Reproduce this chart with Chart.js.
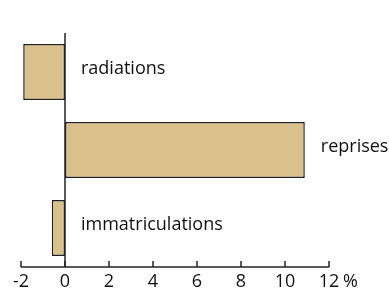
<!DOCTYPE html>
<html>
<head>
<meta charset="utf-8">
<script src="https://cdn.jsdelivr.net/npm/chart.js@4"></script>
<style>
html,body{margin:0;padding:0;background:#fff;}
#wrap{width:389px;height:295px;}
</style>
</head>
<body>
<div id="wrap"><canvas id="c" width="389" height="295"></canvas></div>
<script>
const categories = ["radiations", "reprises", "immatriculations"];
const values = [-1.9, 10.9, -0.6];
const tickValues = [-2, 0, 2, 4, 6, 8, 10, 12];
const unitLabel = "%";

const FONT = "'Open Sans', sans-serif";
const FS = 18;

const overlay = {
  id: 'overlay',
  afterDatasetsDraw(chart) {
    const ctx = chart.ctx;
    const x = chart.scales.x, y = chart.scales.y;
    const area = chart.chartArea;
    ctx.save();
    ctx.strokeStyle = '#222';
    ctx.lineWidth = 1.5;
    const x0 = x.getPixelForValue(0);
    ctx.beginPath();
    ctx.moveTo(x0, area.top);
    ctx.lineTo(x0, area.bottom);
    ctx.stroke();
    ctx.beginPath();
    ctx.moveTo(x.getPixelForValue(tickValues[0]), area.bottom);
    ctx.lineTo(x.getPixelForValue(tickValues[tickValues.length-1]), area.bottom);
    ctx.stroke();
    tickValues.forEach(v => {
      const px = x.getPixelForValue(v);
      ctx.beginPath();
      ctx.moveTo(px, area.bottom);
      ctx.lineTo(px, area.bottom - 6);
      ctx.stroke();
    });
    ctx.fillStyle = '#111';
    ctx.font = FS + 'px ' + FONT;
    ctx.textBaseline = 'middle';
    ctx.textAlign = 'left';
    categories.forEach((c, i) => {
      const px = x.getPixelForValue(Math.max(0, values[i])) + 16;
      const py = y.getPixelForValue(i) - 3;
      ctx.fillText(c, px, py);
    });
    // unit label aligned with the tick labels
    const p12 = x.getPixelForValue(tickValues[tickValues.length-1]);
    let ty = area.bottom + 6, tb = 'top', toff = 0;
    try {
      const items = x.getLabelItems(area);
      const last = items[items.length - 1];
      ty = last.options.translation[1];
      tb = last.options.textBaseline;
      toff = last.textOffset || 0;
    } catch (e) {}
    ctx.textBaseline = tb;
    ctx.fillText(unitLabel, p12 + 14, ty + toff);
    ctx.restore();
  }
};

new Chart(document.getElementById('c'), {
  type: 'bar',
  data: {
    labels: categories,
    datasets: [{
      data: values,
      backgroundColor: '#DAC08A',
      borderColor: '#222',
      borderWidth: 1.5,
      borderSkipped: false,
      categoryPercentage: 1,
      barPercentage: 0.72
    }]
  },
  options: {
    indexAxis: 'y',
    responsive: false,
    animation: false,
    devicePixelRatio: 1,
    layout: { padding: { left: 21, right: 60, top: 33, bottom: 0 } },
    plugins: { legend: { display: false }, tooltip: { enabled: false } },
    scales: {
      y: { display: false },
      x: {
        min: -2, max: 12,
        afterBuildTicks(s) { s.ticks = tickValues.map(v => ({ value: v })); },
        afterFit(s) { s.height = 28; },
        grid: { display: false, drawTicks: false },
        border: { display: false },
        ticks: {
          color: '#111',
          font: { family: FONT, size: FS },
          padding: 4,
          maxRotation: 0,
          autoSkip: false
        }
      }
    }
  },
  plugins: [overlay]
});
</script>
</body>
</html>
